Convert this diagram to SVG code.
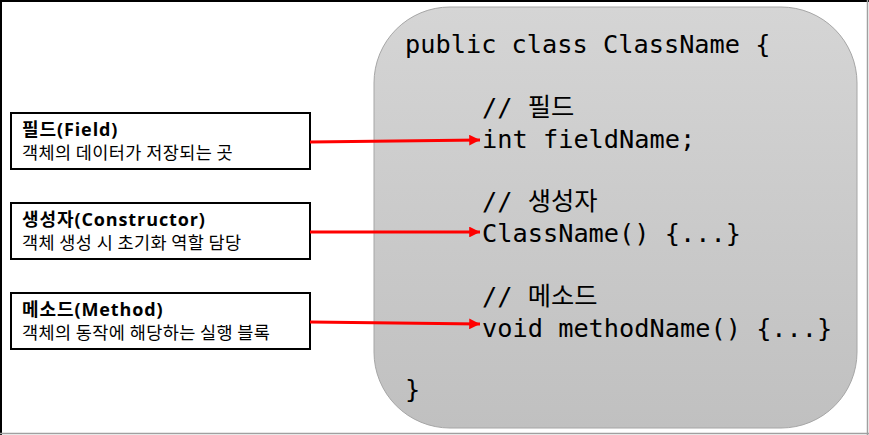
<svg xmlns="http://www.w3.org/2000/svg" width="869" height="435" viewBox="0 0 869 435">
<style>
.box{fill:#fff;stroke:#000;stroke-width:2}
.title{font-family:"Open Sans","Noto Sans CJK KR",sans-serif;font-weight:bold;font-size:18px;letter-spacing:0.9px;fill:#000}
.sub{font-family:"Noto Sans CJK KR","Liberation Sans",sans-serif;font-size:17.5px;letter-spacing:0.4px;fill:#000}
.code{font-family:"DejaVu Sans Mono","Noto Sans CJK KR",monospace;font-size:25.3px;fill:#000}
.arrow{stroke:#ff0000;stroke-width:3;fill:none;marker-end:url(#ah)}
</style>
<defs>
<linearGradient id="g" x1="0" y1="0" x2="0" y2="1">
<stop offset="0" stop-color="#d5d5d5"/>
<stop offset="1" stop-color="#c0c0c0"/>
</linearGradient>
<marker id="ah" viewBox="0 0 10 10" refX="10" refY="5" markerWidth="4.2" markerHeight="3.6" orient="auto" markerUnits="strokeWidth">
<path d="M0,0 L10,5 L0,10 z" fill="#ff0000"/>
</marker>
</defs>
<rect width="869" height="435" fill="#fff"/>
<line x1="0" y1="1" x2="869" y2="1" stroke="#000" stroke-width="2"/>
<line x1="1" y1="0" x2="1" y2="435" stroke="#000" stroke-width="2"/>
<line x1="0" y1="433.5" x2="869" y2="433.5" stroke="#a0a0a0" stroke-width="1.5"/>
<line x1="867.5" y1="0" x2="867.5" y2="435" stroke="#a0a0a0" stroke-width="1.5"/>
<g id="classbox">
<rect x="374" y="7" width="483" height="421" rx="76" ry="76" fill="url(#g)" stroke="#a6a6a6" stroke-width="1"/>
<text class="code" x="405" y="53">public class ClassName {</text>
<text class="code" x="482" y="116">// 필드</text>
<text class="code" x="482" y="148">int fieldName;</text>
<text class="code" x="482" y="210">// 생성자</text>
<text class="code" x="482" y="242">ClassName() {...}</text>
<text class="code" x="482" y="305">// 메소드</text>
<text class="code" x="482" y="337">void methodName() {...}</text>
<text class="code" x="405" y="398">}</text>
</g>
<g id="field">
<rect class="box" x="11" y="113" width="299" height="56"/>
<text class="title" x="22" y="136">필드(Field)</text>
<text class="sub" x="22" y="159">객체의 데이터가 저장되는 곳</text>
</g>
<g id="constructor">
<rect class="box" x="11" y="203" width="299" height="56"/>
<text class="title" x="22" y="226">생성자(Constructor)</text>
<text class="sub" x="22" y="249">객체 생성 시 초기화 역할 담당</text>
</g>
<g id="method">
<rect class="box" x="11" y="293" width="299" height="56"/>
<text class="title" x="22" y="316">메소드(Method)</text>
<text class="sub" x="22" y="339">객체의 동작에 해당하는 실행 블록</text>
</g>
<g id="connectors">
<line class="arrow" x1="310" y1="142" x2="480" y2="140"/>
<line class="arrow" x1="310" y1="232" x2="480" y2="232"/>
<line class="arrow" x1="310" y1="322" x2="480" y2="324"/>
</g>
</svg>
